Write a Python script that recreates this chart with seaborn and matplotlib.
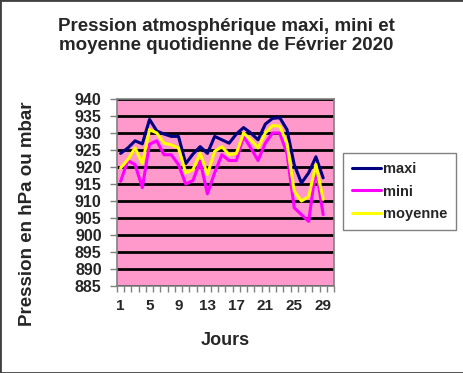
import numpy as np
import pandas as pd
import matplotlib.pyplot as plt
import seaborn as sns

# Daily pressure values for February 2020
jours = list(range(1, 30))
maxi = [924, 925.6, 927.7, 926.8, 934, 930.6, 929.7, 929, 929, 921,
        923.8, 926, 924, 929, 928, 927, 929.7, 931.6, 930, 928,
        932.6, 934.3, 934.5, 931, 920.7, 915.3, 918.3, 923, 916.8]
mini = [915.8, 921.9, 920.7, 913.9, 926.7, 927.7, 923.6, 923.6, 920.7, 915,
        916, 921.7, 912.1, 918.3, 923.6, 921.9, 921.9, 929, 925.6, 921.9,
        927, 930, 930, 924, 908, 906, 904, 919.7, 906]
moyenne = [919.7, 922.2, 925.6, 921, 931, 930, 927, 926.5, 925.6, 918.3,
           919.2, 924.1, 917.8, 924.6, 926, 923.6, 924, 930, 928, 925.6,
           930, 932.2, 932, 927, 912.9, 910, 911.3, 920.7, 910.5]
series_names = ['maxi', 'mini', 'moyenne']
colors = ['#000080', '#FF00FF', '#FFFF00']
xtick_labels = [1, 5, 9, 13, 17, 21, 25, 29]

df = pd.DataFrame({'jour': jours, 'maxi': maxi, 'mini': mini, 'moyenne': moyenne})
long_df = df.melt(id_vars='jour', var_name='serie', value_name='pression')

sns.set_style('white')
plt.rcParams['font.family'] = ['Liberation Sans', 'DejaVu Sans']
plt.rcParams['font.weight'] = 'bold'

fig = plt.figure(figsize=(4.64, 3.73), dpi=100)
ax = fig.add_axes([117 / 464, 1 - 286 / 373, (334 - 117) / 464, (286 - 99) / 373])

sns.lineplot(data=long_df, x='jour', y='pression', hue='serie',
             palette=dict(zip(series_names, colors)), linewidth=2.2, ax=ax)

ax.set_facecolor('#FF99CC')
ax.set_xlim(0.5, 30.5)
ax.set_ylim(885, 940)
ax.set_yticks(np.arange(885, 941, 5))
ax.set_xticks(xtick_labels)
ax.set_xticks(np.arange(0.5, 31, 1), minor=True)
ax.grid(axis='y', color='black', linewidth=2)
ax.set_axisbelow(True)
for s in ax.spines.values():
    s.set_color('#808080')
    s.set_linewidth(1.2)
ax.tick_params(axis='y', which='major', direction='out', length=5, width=1,
               color='#808080', labelsize=11.5, pad=6)
ax.tick_params(axis='x', which='major', length=0, labelsize=11, pad=9)
ax.tick_params(axis='x', which='minor', direction='out', length=4, width=1,
               color='#808080')
ax.yaxis.set_ticks_position('left')
ax.xaxis.set_ticks_position('bottom')
for lbl in ax.get_xticklabels() + ax.get_yticklabels():
    lbl.set_fontweight('bold')

ax.set_xlabel('Jours', fontsize=13, fontweight='bold', labelpad=14)
ax.set_ylabel('')
fig.text(28 / 464, 1 - 214 / 373, 'Pression en hPa ou mbar', rotation=90,
         fontsize=13.5, fontweight='bold', ha='center', va='center')

fig.text(226 / 464, 1 - 36 / 373,
         'Pression atmosphérique maxi, mini et\nmoyenne quotidienne de Février 2020',
         fontsize=13.5, fontweight='bold', ha='center', va='center', linespacing=1.1)

leg = ax.legend(loc='upper left', bbox_to_anchor=(343 / 464, 1 - 153 / 373),
                bbox_transform=fig.transFigure, borderaxespad=0, frameon=True,
                fancybox=False, edgecolor='#808080', framealpha=1,
                handlelength=2.0, handletextpad=0.15, borderpad=0.6,
                labelspacing=0.6, prop={'weight': 'bold', 'size': 10.5})
leg.get_frame().set_linewidth(1)

fig.patches.append(plt.Rectangle((0, 0), 1, 1, transform=fig.transFigure,
                                 fill=False, edgecolor='#404040', linewidth=2))

fig.savefig('out.png', dpi=100)
